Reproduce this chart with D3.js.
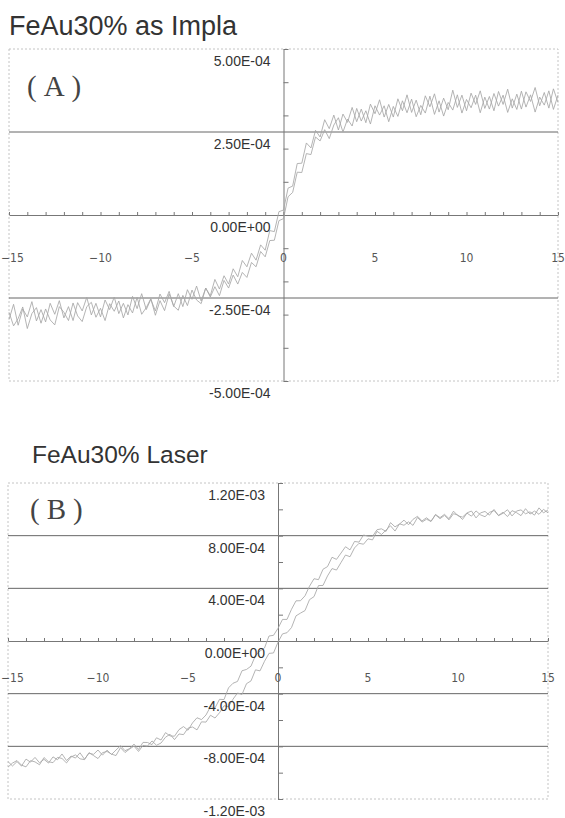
<!DOCTYPE html>
<meta charset="utf-8">
<style>
body { margin: 0; background: #fff; }
.title { font-family: "Liberation Sans", Arial, sans-serif; fill: #333; }
.tag { font-family: "Liberation Serif", "DejaVu Serif", serif; font-size: 29px; fill: #444; letter-spacing: 7px; }
.ylab { font-family: "Liberation Sans", Arial, sans-serif; font-size: 14px; fill: #333; text-anchor: end; }
.xlab { font-family: "DejaVu Sans Condensed", "Liberation Sans", sans-serif; font-size: 12px; fill: #555; text-anchor: middle; }
.frame { fill: none; stroke: #c4c4c4; stroke-dasharray: 2,2; }
.grid { stroke: #666; stroke-width: 1; }
.axis path, .axis line { stroke: #777; }
.curve { fill: none; stroke: #a6a6a6; stroke-width: 0.85; }
</style>
<body>
<script src="https://d3js.org/d3.v7.min.js"></script>
<script>

// applied field, common to both measurements
var field = [-15,-14.75,-14.5,-14.25,-14,-13.75,-13.5,-13.25,-13,-12.75,-12.5,-12.25,-12,-11.75,-11.5,-11.25,-11,-10.75,-10.5,-10.25,
  -10,-9.75,-9.5,-9.25,-9,-8.75,-8.5,-8.25,-8,-7.75,-7.5,-7.25,-7,-6.75,-6.5,-6.25,-6,-5.75,-5.5,-5.25,
  -5,-4.75,-4.5,-4.25,-4,-3.75,-3.5,-3.25,-3,-2.75,-2.5,-2.25,-2,-1.75,-1.5,-1.25,-1,-0.75,-0.5,-0.25,
  0,0.25,0.5,0.75,1,1.25,1.5,1.75,2,2.25,2.5,2.75,3,3.25,3.5,3.75,4,4.25,4.5,4.75,
  5,5.25,5.5,5.75,6,6.25,6.5,6.75,7,7.25,7.5,7.75,8,8.25,8.5,8.75,9,9.25,9.5,9.75,
  10,10.25,10.5,10.75,11,11.25,11.5,11.75,12,12.25,12.5,12.75,13,13.25,13.5,13.75,14,14.25,14.5,14.75,15];

// magnetisation, in units of 1E-06 (so 500 = 5.00E-04)
var implaDown = [-315,-269,-332,-283,-307,-261,-319,-285,-322,-266,-299,-258,-310,-276,-318,-264,-289,-248,-301,-266,
  -307,-256,-285,-247,-297,-266,-301,-245,-282,-237,-285,-254,-289,-238,-264,-230,-276,-237,-276,-225,
  -254,-214,-259,-220,-243,-194,-223,-183,-208,-162,-186,-137,-156,-115,-136,-90,-106,-47,-50,10,
  15,81,87,155,156,217,202,255,235,287,260,301,256,304,279,324,281,319,278,334,
  305,347,295,333,295,350,314,362,309,346,302,359,326,365,310,352,317,376,324,361,
  314,367,333,374,321,357,314,372,333,379,322,364,319,371,342,384,329,369,322,380,339];
var implaUp = [-293,-334,-312,-277,-342,-297,-279,-326,-283,-316,-331,-276,-293,-318,-265,-304,-321,-276,-263,-308,
  -281,-318,-267,-290,-259,-310,-270,-295,-248,-299,-279,-252,-302,-258,-288,-238,-274,-287,-242,-273,
  -226,-256,-267,-220,-247,-216,-243,-197,-220,-181,-208,-173,-188,-143,-156,-110,-126,-77,-76,-17,
  -11,55,68,129,128,185,182,235,223,257,230,271,293,250,289,268,321,283,314,274,
  329,301,329,281,327,297,344,308,349,296,330,307,358,303,344,298,339,316,362,307,
  348,323,361,308,355,319,366,328,361,309,350,318,373,325,362,310,355,331,374,318,361];

var laserDown = [-916,-949,-916,-950,-897,-920,-884,-925,-899,-927,-880,-902,-858,-908,-874,-889,-849,-898,-852,-861,
  -828,-867,-829,-862,-828,-795,-833,-818,-783,-824,-770,-771,-787,-735,-752,-696,-721,-723,-673,-650,
  -678,-622,-583,-597,-562,-498,-508,-443,-445,-356,-321,-307,-226,-216,-191,-109,-76,-53,38,43,
  96,164,164,241,305,306,343,416,473,466,545,565,636,620,668,716,692,756,751,805,
  796,795,845,852,832,899,867,888,918,883,924,947,912,936,909,961,937,962,929,986,
  951,941,973,987,935,973,984,956,999,952,970,997,950,987,996,966,981,956,1011,973,996];
var laserUp = [-958,-927,-908,-943,-956,-909,-918,-940,-885,-917,-924,-884,-892,-926,-881,-865,-895,-901,-848,-870,
  -893,-848,-839,-859,-870,-810,-847,-821,-798,-839,-793,-798,-759,-792,-775,-731,-708,-749,-706,-711,
  -662,-653,-675,-614,-616,-564,-585,-545,-492,-499,-442,-395,-406,-324,-303,-219,-227,-154,-94,-91,
  -9,54,63,102,191,212,231,314,337,421,422,494,550,539,596,653,640,707,742,735,
  776,768,833,809,842,875,835,890,879,905,878,938,903,925,908,958,929,954,920,967,
  956,923,971,948,988,958,944,977,991,954,978,945,990,975,952,1005,964,987,962,1000,973];

var xTicks = [-15,-10,-5,0,5,10,15];
var xMinor = [-15,-14,-13,-12,-11,-10,-9,-8,-7,-6,-5,-4,-3,-2,-1,0,1,2,3,4,5,6,7,8,9,10,11,12,13,14,15];

var yTicksA = [500,250,0,-250,-500];
var yLabelsA = ["5.00E-04","2.50E-04","0.00E+00","-2.50E-04","-5.00E-04"];
var gridA = [250,-250];
var yMinorA = [-500,-400,-300,-200,-100,0,100,200,300,400,500];

var yTicksB = [1200,800,400,0,-400,-800,-1200];
var yLabelsB = ["1.20E-03","8.00E-04","4.00E-04","0.00E+00","-4.00E-04","-8.00E-04","-1.20E-03"];
var gridB = [800,400,-400,-800];
var yMinorB = [-1200,-1000,-800,-600,-400,-200,0,200,400,600,800,1000,1200];

var svg = d3.select("body").append("svg")
    .attr("width", 565)
    .attr("height", 818);

function panel(p) {
  var x = d3.scaleLinear().domain([-15, 15]).range([p.left, p.right]);
  var y = d3.scaleLinear().domain([-p.ymax, p.ymax]).range([p.bottom, p.top]);
  var g = svg.append("g");

  g.append("text").attr("class", "title")
      .attr("x", p.titleX).attr("y", p.titleY)
      .style("font-size", p.titleSize + "px").text(p.title);

  g.append("rect").attr("class", "frame")
      .attr("x", p.left).attr("y", p.top)
      .attr("width", p.right - p.left).attr("height", p.bottom - p.top);

  g.selectAll(".grid").data(p.grid)
    .enter().append("line").attr("class", "grid")
      .attr("x1", p.left).attr("x2", p.right)
      .attr("y1", function(d) { return y(d); })
      .attr("y2", function(d) { return y(d); });

  g.append("g").attr("class", "axis")
      .attr("transform", "translate(0," + y(0) + ")")
      .call(d3.axisTop(x).tickValues(xMinor).tickSize(3).tickSizeOuter(0).tickFormat(""));

  g.append("g").attr("class", "axis")
      .attr("transform", "translate(" + x(0) + ",0)")
      .call(d3.axisRight(y).tickValues(p.yMinor).tickSize(5).tickSizeOuter(0).tickFormat(""));

  var line = d3.line()
      .x(function(d, i) { return x(field[i]); })
      .y(function(d) { return y(d); });
  g.append("path").datum(p.down).attr("class", "curve").attr("d", line);
  g.append("path").datum(p.up).attr("class", "curve").attr("d", line);

  g.selectAll(".ylab").data(p.yTicks)
    .enter().append("text").attr("class", "ylab")
      .attr("x", x(0) - 13)
      .attr("y", function(d) { return y(d) + 17; })
      .text(function(d, i) { return p.yLabels[i]; });

  // the leftmost label sits against the page edge, as in the scan
  g.selectAll(".xlab").data(xTicks)
    .enter().append("text").attr("class", "xlab")
      .attr("x", function(d) { return d === -15 ? 1 : x(d); })
      .style("text-anchor", function(d) { return d === -15 ? "start" : null; })
      .attr("y", y(0) + p.xLabOff)
      .text(function(d) { return d < 0 ? "\u2212" + (-d) : d; });

  g.append("text").attr("class", "tag")
      .attr("x", p.tagX).attr("y", p.tagY).text(p.tag);
}

panel({title: "FeAu30% as Impla", titleX: 9, titleY: 35, titleSize: 27, tag: "(A)", tagX: 27, tagY: 96,
  left: 9, right: 558, top: 49, bottom: 381, ymax: 500, xLabOff: 47,
  grid: gridA, yMinor: yMinorA, yTicks: yTicksA, yLabels: yLabelsA,
  down: implaDown, up: implaUp});

panel({title: "FeAu30% Laser", titleX: 32, titleY: 463, titleSize: 24.5, tag: "(B)", tagX: 30, tagY: 519,
  left: 8, right: 548, top: 483, bottom: 799, ymax: 1200, xLabOff: 41,
  grid: gridB, yMinor: yMinorB, yTicks: yTicksB, yLabels: yLabelsB,
  down: laserDown, up: laserUp});

</script>
</body>
